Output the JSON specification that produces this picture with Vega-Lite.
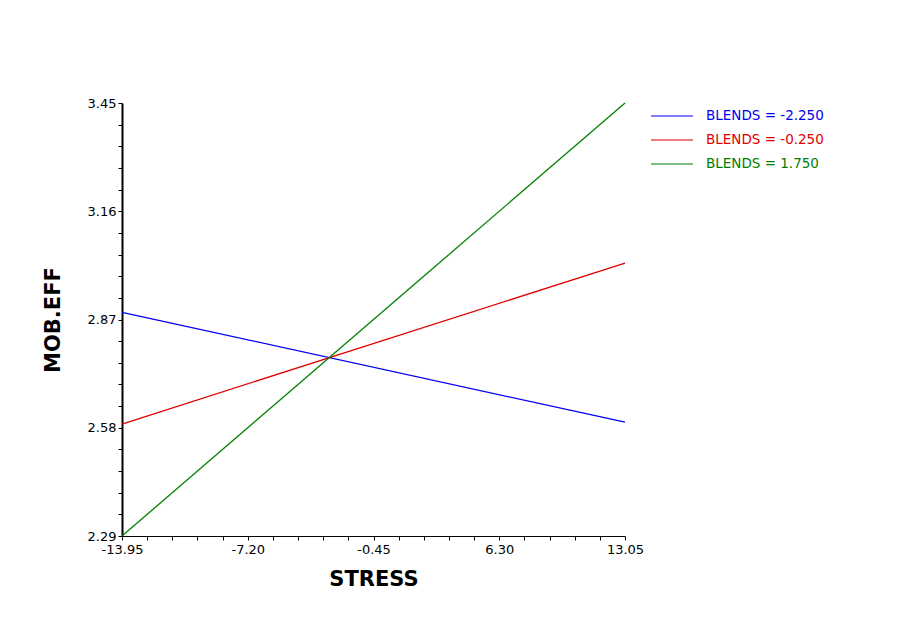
{
  "$schema": "https://vega.github.io/schema/vega-lite/v6.json",
  "width": 503,
  "height": 433,
  "autosize": {"type": "none"},
  "padding": {"left": 122, "top": 103, "right": 289, "bottom": 83},
  "background": "white",
  "data": {
    "values": [
      {"stress": -13.95, "mob": 2.889, "series": "BLENDS = -2.250"},
      {"stress": 13.05, "mob": 2.595, "series": "BLENDS = -2.250"},
      {"stress": -13.95, "mob": 2.59, "series": "BLENDS = -0.250"},
      {"stress": 13.05, "mob": 3.021, "series": "BLENDS = -0.250"},
      {"stress": -13.95, "mob": 2.29, "series": "BLENDS = 1.750"},
      {"stress": 13.05, "mob": 3.45, "series": "BLENDS = 1.750"}
    ]
  },
  "mark": {"type": "line", "strokeWidth": 1.3, "clip": false},
  "encoding": {
    "x": {
      "field": "stress",
      "type": "quantitative",
      "scale": {"domain": [-13.95, 13.05], "nice": false, "zero": false},
      "axis": {
        "title": "STRESS",
        "values": [-13.95, -12.6, -11.25, -9.9, -8.55, -7.2, -5.85, -4.5, -3.15, -1.8, -0.45, 0.9, 2.25, 3.6, 4.95, 6.3, 7.65, 9, 10.35, 11.7, 13.05],
        "labelExpr": "abs((datum.value + 13.95) / 6.75 - round((datum.value + 13.95) / 6.75)) < 0.001 ? replace(format(datum.value, '.2f'), '\u2212', '-') : ''",
        "labelFlush": false,
        "labelOverlap": false,
        "grid": false,
        "tickSize": 4,
        "tickColor": "black",
        "domainColor": "black",
        "domainWidth": 1.2,
        "labelPadding": 3,
        "labelFont": "DejaVu Sans",
        "labelFontSize": 13,
        "labelColor": "black",
        "titleFont": "DejaVu Sans",
        "titleFontSize": 21,
        "titleFontWeight": "bold",
        "titleColor": "black",
        "titlePadding": 12
      }
    },
    "y": {
      "field": "mob",
      "type": "quantitative",
      "scale": {"domain": [2.29, 3.45], "nice": false, "zero": false},
      "axis": {
        "title": "MOB.EFF",
        "values": [2.29, 2.348, 2.406, 2.464, 2.522, 2.58, 2.638, 2.696, 2.754, 2.812, 2.87, 2.928, 2.986, 3.044, 3.102, 3.16, 3.218, 3.276, 3.334, 3.392, 3.45],
        "labelExpr": "abs((datum.value - 2.29) / 0.29 - round((datum.value - 2.29) / 0.29)) < 0.001 ? format(datum.value, '.2f') : ''",
        "labelFlush": false,
        "labelOverlap": false,
        "grid": false,
        "tickSize": 4,
        "tickColor": "black",
        "domainColor": "black",
        "domainWidth": 2,
        "labelPadding": 2,
        "labelFont": "DejaVu Sans",
        "labelFontSize": 13,
        "labelColor": "black",
        "titleFont": "DejaVu Sans",
        "titleFontSize": 21,
        "titleFontWeight": "bold",
        "titleColor": "black",
        "titlePadding": 24
      }
    },
    "color": {
      "field": "series",
      "type": "nominal",
      "scale": {
        "domain": ["BLENDS = -2.250", "BLENDS = -0.250", "BLENDS = 1.750"],
        "range": ["#0000f0", "#e00000", "#008000"]
      },
      "legend": {
        "title": null,
        "orient": "none",
        "legendX": 542,
        "legendY": 5,
        "symbolType": "M-3,0H3",
        "symbolSize": 196,
        "symbolStrokeWidth": 1.2,
        "labelOffset": 26,
        "rowPadding": 9,
        "labelFont": "DejaVu Sans",
        "labelFontSize": 13.5,
        "labelColor": {"expr": "scale('color', datum.value)"}
      }
    }
  },
  "config": {"view": {"stroke": null}}
}
